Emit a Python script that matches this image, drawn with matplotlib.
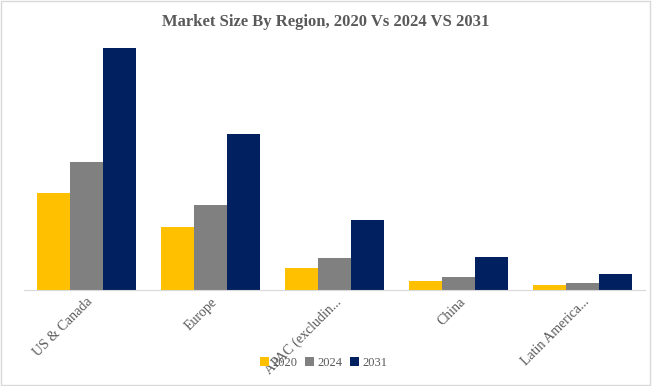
import matplotlib.pyplot as plt
import numpy as np

regions = ['US & Canada', 'Europe', 'APAC (excludin...', 'China', 'Latin America...']
v2020 = [97, 63, 22, 9, 5]
v2024 = [128, 85, 32, 13, 7]
v2031 = [242, 156, 70, 33, 16]

plt.rcParams['font.family'] = ['Liberation Serif', 'DejaVu Serif']

fig = plt.figure(figsize=(6.52, 3.86), dpi=100)
ax = fig.add_axes([0.037, 0.249, 0.952, 0.671])

x = np.arange(len(regions))
w = 0.266
ax.bar(x - w, v2020, w, color='#FFC000', label='2020')
ax.bar(x, v2024, w, color='#808080', label='2024')
ax.bar(x + w, v2031, w, color='#002060', label='2031')

ax.set_xlim(-0.5, len(regions) - 0.5)
ax.set_ylim(0, 259)
ax.set_yticks([])
for s in ['top', 'right', 'left']:
    ax.spines[s].set_visible(False)
ax.spines['bottom'].set_color('#d9d9d9')
ax.tick_params(axis='x', length=0, pad=4)
ax.set_xticks(x)
ax.set_xticklabels(regions, rotation=45, ha='right', rotation_mode='anchor',
                   fontsize=10, color='#595959')

fig.suptitle('Market Size By Region, 2020 Vs 2024 VS 2031', y=0.965,
             fontsize=12, fontweight='bold', color='#595959')
fig.legend(loc='center', bbox_to_anchor=(0.497, 0.06), ncol=3, frameon=False,
           fontsize=9, handlelength=0.7, handleheight=0.7, handletextpad=0.3,
           columnspacing=0.6, labelcolor='#595959')

fig.patches.append(plt.Rectangle((0.002, 0.003), 0.995, 0.994, transform=fig.transFigure,
                                 fill=False, edgecolor='#d9d9d9', linewidth=1))

fig.savefig('out.png', dpi=100)
